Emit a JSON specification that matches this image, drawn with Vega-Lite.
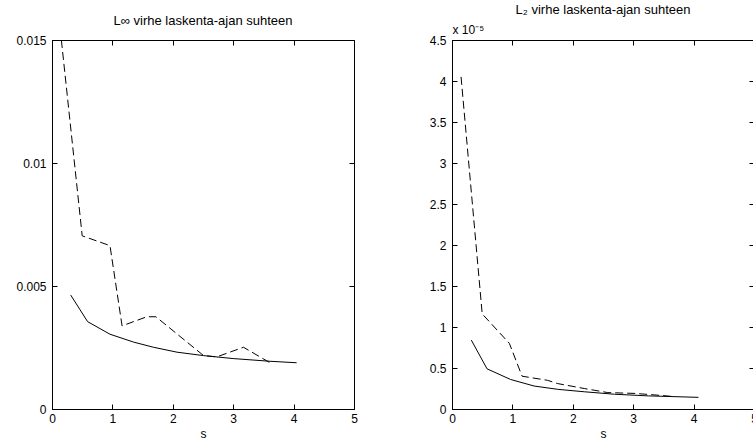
{
  "$schema": "https://vega.github.io/schema/vega-lite/v6.json",
  "background": "white",
  "padding": {"left": 15, "top": 3, "right": 0, "bottom": 0},
  "bounds": "flush",
  "spacing": 98,
  "config": {
    "font": "Liberation Sans",
    "view": {"stroke": "black", "strokeWidth": 1},
    "axis": {
      "grid": false,
      "domainColor": "black",
      "domainWidth": 1,
      "tickColor": "black",
      "tickWidth": 1,
      "tickSize": -5,
      "labelPadding": 9,
      "labelColor": "black",
      "labelFont": "Liberation Sans",
      "labelFontSize": 12,
      "labelFlush": false,
      "labelOverlap": false,
      "titleFont": "Liberation Sans",
      "titleFontSize": 12,
      "titleFontWeight": "normal",
      "titleColor": "black"
    },
    "axisY": {"labelPadding": 11},
    "title": {"font": "Liberation Sans", "fontSize": 13, "fontWeight": "normal", "color": "black", "offset": 6}
  },
  "datasets": {
    "linf": [
      {"s": 0.31, "err": 0.00463, "method": "solid"},
      {"s": 0.59, "err": 0.00355, "method": "solid"},
      {"s": 0.96, "err": 0.00304, "method": "solid"},
      {"s": 1.35, "err": 0.00272, "method": "solid"},
      {"s": 1.68, "err": 0.00251, "method": "solid"},
      {"s": 2.07, "err": 0.00231, "method": "solid"},
      {"s": 2.51, "err": 0.00217, "method": "solid"},
      {"s": 3.0, "err": 0.00205, "method": "solid"},
      {"s": 3.61, "err": 0.00194, "method": "solid"},
      {"s": 4.05, "err": 0.00188, "method": "solid"},
      {"s": 0.155, "err": 0.0150, "method": "dashed"},
      {"s": 0.50, "err": 0.00704, "method": "dashed"},
      {"s": 0.96, "err": 0.00664, "method": "dashed"},
      {"s": 1.16, "err": 0.00338, "method": "dashed"},
      {"s": 1.57, "err": 0.00375, "method": "dashed"},
      {"s": 1.72, "err": 0.00375, "method": "dashed"},
      {"s": 2.51, "err": 0.00217, "method": "dashed"},
      {"s": 2.73, "err": 0.00212, "method": "dashed"},
      {"s": 3.17, "err": 0.00251, "method": "dashed"},
      {"s": 3.61, "err": 0.00188, "method": "dashed"}
    ],
    "l2": [
      {"s": 0.32, "err": 0.84e-5, "method": "solid"},
      {"s": 0.58, "err": 0.49e-5, "method": "solid"},
      {"s": 0.97, "err": 0.36e-5, "method": "solid"},
      {"s": 1.36, "err": 0.28e-5, "method": "solid"},
      {"s": 1.75, "err": 0.24e-5, "method": "solid"},
      {"s": 2.19, "err": 0.21e-5, "method": "solid"},
      {"s": 2.69, "err": 0.18e-5, "method": "solid"},
      {"s": 3.25, "err": 0.16e-5, "method": "solid"},
      {"s": 4.08, "err": 0.142e-5, "method": "solid"},
      {"s": 0.15, "err": 4.05e-5, "method": "dashed"},
      {"s": 0.50, "err": 1.16e-5, "method": "dashed"},
      {"s": 0.95, "err": 0.80e-5, "method": "dashed"},
      {"s": 1.16, "err": 0.40e-5, "method": "dashed"},
      {"s": 1.58, "err": 0.35e-5, "method": "dashed"},
      {"s": 1.75, "err": 0.31e-5, "method": "dashed"},
      {"s": 2.19, "err": 0.25e-5, "method": "dashed"},
      {"s": 2.58, "err": 0.20e-5, "method": "dashed"},
      {"s": 3.03, "err": 0.19e-5, "method": "dashed"},
      {"s": 3.47, "err": 0.165e-5, "method": "dashed"},
      {"s": 3.69, "err": 0.15e-5, "method": "dashed"}
    ]
  },
  "hconcat": [
    {
      "width": 302,
      "height": 369,
      "title": {"text": "L∞ virhe laskenta-ajan suhteen"},
      "data": {"name": "linf"},
      "layer": [
        {
          "transform": [{"filter": "datum.method === 'solid'"}],
          "mark": {"type": "line", "color": "black", "strokeWidth": 1, "clip": true},
          "encoding": {
            "x": {"field": "s", "type": "quantitative", "scale": {"domain": [0, 5], "nice": false},
                  "axis": {"orient": "bottom", "values": [0, 1, 2, 3, 4, 5], "title": "s"}},
            "y": {"field": "err", "type": "quantitative", "scale": {"domain": [0, 0.015], "nice": false},
                  "axis": {"orient": "left", "values": [0, 0.005, 0.01, 0.015], "format": ".3~f", "title": null}}
          }
        },
        {
          "transform": [{"filter": "datum.method === 'dashed'"}],
          "mark": {"type": "line", "color": "black", "strokeWidth": 1, "strokeDash": [8, 4], "clip": true},
          "encoding": {
            "x": {"field": "s", "type": "quantitative", "scale": {"domain": [0, 5], "nice": false},
                  "axis": {"orient": "top", "values": [1, 2, 3, 4], "labels": false, "title": null}},
            "y": {"field": "err", "type": "quantitative", "scale": {"domain": [0, 0.015], "nice": false},
                  "axis": {"orient": "right", "values": [0.005, 0.01], "labels": false, "title": null}}
          }
        }
      ],
      "resolve": {"axis": {"x": "independent", "y": "independent"}}
    },
    {
      "width": 302,
      "height": 369,
      "title": {"text": "L₂ virhe laskenta-ajan suhteen"},
      "data": {"name": "l2"},
      "layer": [
        {
          "transform": [{"filter": "datum.method === 'solid'"}],
          "mark": {"type": "line", "color": "black", "strokeWidth": 1, "clip": true},
          "encoding": {
            "x": {"field": "s", "type": "quantitative", "scale": {"domain": [0, 5], "nice": false},
                  "axis": {"orient": "bottom", "values": [0, 1, 2, 3, 4, 5], "title": "s"}},
            "y": {"field": "err", "type": "quantitative", "scale": {"domain": [0, 4.5e-5], "nice": false},
                  "axis": {"orient": "left", "values": [0, 0.5e-5, 1e-5, 1.5e-5, 2e-5, 2.5e-5, 3e-5, 3.5e-5, 4e-5, 4.5e-5],
                           "labelExpr": "format(datum.value * 1e5, '.2~f')",
                           "title": "x 10⁻⁵", "titleAngle": 0, "titleX": 0, "titleY": -7, "titleAlign": "left", "titleBaseline": "alphabetic"}}
          }
        },
        {
          "transform": [{"filter": "datum.method === 'dashed'"}],
          "mark": {"type": "line", "color": "black", "strokeWidth": 1, "strokeDash": [8, 4], "clip": true},
          "encoding": {
            "x": {"field": "s", "type": "quantitative", "scale": {"domain": [0, 5], "nice": false},
                  "axis": {"orient": "top", "values": [1, 2, 3, 4], "labels": false, "title": null}},
            "y": {"field": "err", "type": "quantitative", "scale": {"domain": [0, 4.5e-5], "nice": false},
                  "axis": {"orient": "right", "values": [0.5e-5, 1e-5, 1.5e-5, 2e-5, 2.5e-5, 3e-5, 3.5e-5, 4e-5], "labels": false, "title": null}}
          }
        }
      ],
      "resolve": {"axis": {"x": "independent", "y": "independent"}}
    }
  ]
}
